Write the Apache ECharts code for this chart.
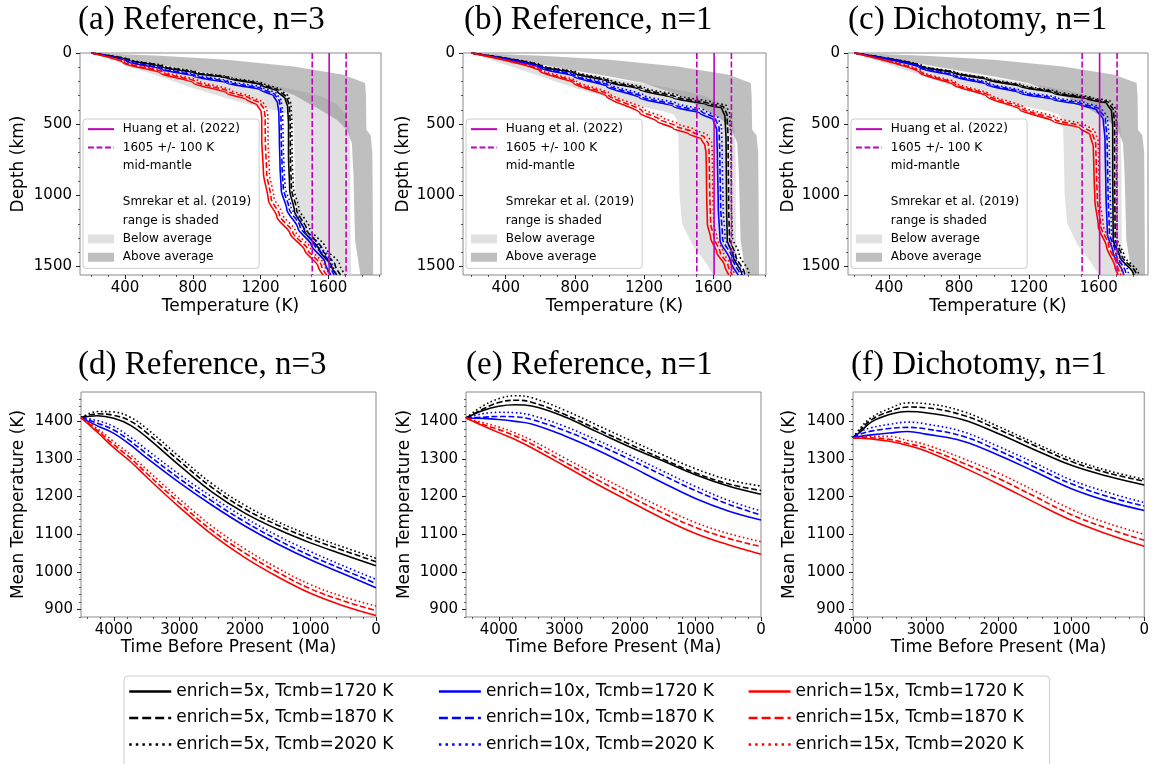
<!DOCTYPE html>
<html><head><meta charset="utf-8">
<script src="https://cdn.jsdelivr.net/npm/echarts/dist/echarts.min.js"></script>
<style>html,body{margin:0;padding:0;background:#fff}#c{width:1152px;height:764px}</style>
</head><body><div id="c"></div>
<script>
// ---------------- DATA ----------------
const panelTitles = ['(a) Reference, n=3','(b) Reference, n=1','(c) Dichotomy, n=1','(d) Reference, n=3','(e) Reference, n=1','(f) Dichotomy, n=1'];
const enrichLabels = ['5x','10x','15x'];
const tcmbLabels = ['1720','1870','2020'];

const depthMax = 1560;
const tempTicks = [400, 800, 1200, 1600];
const tempMinor = [200,300,500,600,700,900,1000,1100,1300,1400,1500,1700,1800,1900];
const depthTicks = [0, 500, 1000, 1500];
const depthMinor = [100,200,300,400,600,700,800,900,1100,1200,1300,1400];
const timeTicks = [0, 1000, 2000, 3000, 4000];
const timeMinor = [200,400,600,800,1200,1400,1600,1800,2200,2400,2600,2800,3200,3400,3600,3800,4200,4400];
const meanTTicks = [900, 1000, 1100, 1200, 1300, 1400];
const meanTMinor = [880,920,940,960,980,1020,1040,1060,1080,1120,1140,1160,1180,1220,1240,1260,1280,1320,1340,1360,1380,1420,1440,1460];
const tempRangeA = [134, 1911];
const tempRangeB = [153, 1905];
const tempRangeC = [165, 1882];
const timeRangeDE = [0, 4500];
const timeRangeF = [0, 4000];
const meanTRange = [880, 1478];

const huangT = 1605;
const huangBand = [1505, 1705];

// Smrekar et al. (2019) shaded ranges [T (K), depth (km)]
const belowCool = [[200,0],[400,82],[600,163],[800,246],[1000,318],[1178,376],[1300,405],[1370,430],[1395,480],[1400,700],[1405,1000],[1420,1200],[1480,1350],[1560,1480],[1600,1560]];
const belowHot = [[200,0],[600,90],[1000,175],[1300,235],[1450,270],[1560,305],[1650,360],[1705,440],[1725,540],[1730,800],[1730,1100],[1732,1400],[1735,1560]];
const aboveCool = [[200,0],[600,80],[804,125],[1000,165],[1197,211],[1394,293],[1552,399],[1650,469],[1709,540],[1739,634],[1748,845],[1758,1315],[1788,1549],[1790,1560]];
const aboveHot = [[200,0],[607,19],[1000,47],[1394,94],[1689,153],[1817,211],[1822,300],[1825,540],[1850,580],[1860,700],[1865,1560]];

// Panel (a) profiles [T, depth]
const aK1 = [[200,0],[420,50],[607,94],[804,141],[1000,176],[1197,223],[1300,270],[1345,320],[1360,380],[1365,500],[1365,728],[1372,962],[1400,1110],[1460,1250],[1550,1390],[1620,1500],[1650,1560]];
const aK2 = [[200,0],[425,49],[615,92],[815,138],[1010,173],[1205,218],[1310,264],[1355,312],[1370,372],[1375,500],[1376,728],[1382,950],[1412,1100],[1472,1240],[1565,1380],[1640,1490],[1672,1560]];
const aK3 = [[200,0],[430,48],[625,90],[825,135],[1020,170],[1215,213],[1320,258],[1365,305],[1380,365],[1385,500],[1386,728],[1393,940],[1425,1090],[1490,1230],[1585,1370],[1665,1480],[1700,1560]];
const aB1 = [[200,0],[410,60],[607,113],[804,164],[1000,211],[1197,258],[1276,300],[1300,350],[1308,420],[1311,600],[1315,800],[1322,962],[1355,1100],[1420,1230],[1500,1350],[1580,1470],[1615,1560]];
const aB2 = [[200,0],[415,58],[615,110],[815,159],[1010,205],[1205,250],[1285,292],[1312,340],[1320,410],[1322,600],[1327,800],[1334,950],[1368,1090],[1433,1220],[1515,1340],[1600,1460],[1635,1560]];
const aB3 = [[200,0],[420,56],[625,106],[825,154],[1020,199],[1215,242],[1295,285],[1322,335],[1330,405],[1333,600],[1338,800],[1345,940],[1380,1080],[1447,1210],[1530,1330],[1615,1450],[1650,1560]];
const aR1 = [[200,0],[390,70],[607,141],[804,211],[1000,282],[1119,329],[1180,365],[1203,410],[1207,460],[1207,610],[1217,845],[1246,1033],[1296,1150],[1374,1268],[1460,1385],[1540,1500],[1570,1560]];
const aR2 = [[200,0],[400,68],[620,135],[820,203],[1015,272],[1135,318],[1200,352],[1222,400],[1227,450],[1228,610],[1236,845],[1262,1020],[1312,1140],[1390,1260],[1478,1380],[1560,1495],[1590,1560]];
const aR3 = [[200,0],[410,66],[630,130],[835,196],[1030,264],[1150,310],[1215,345],[1238,395],[1243,450],[1244,610],[1252,845],[1278,1010],[1328,1130],[1405,1250],[1495,1375],[1578,1490],[1610,1560]];

// Panel (b) profiles
const bK1 = [[200,0],[598,94],[791,141],[984,200],[1176,258],[1369,317],[1562,364],[1649,387],[1668,446],[1674,610],[1677,1080],[1681,1315],[1716,1432],[1764,1549],[1768,1560]];
const bK2 = [[200,0],[605,92],[800,138],[995,196],[1190,252],[1383,309],[1575,355],[1660,378],[1680,436],[1686,610],[1689,1080],[1694,1305],[1730,1425],[1780,1545],[1785,1560]];
const bK3 = [[200,0],[612,90],[810,135],[1006,191],[1204,245],[1397,300],[1590,345],[1675,368],[1695,425],[1702,610],[1705,1080],[1711,1295],[1750,1415],[1805,1540],[1812,1560]];
const bB1 = [[200,0],[598,106],[791,164],[984,235],[1176,317],[1369,376],[1523,423],[1600,469],[1620,540],[1624,728],[1629,1080],[1639,1315],[1697,1455],[1745,1560]];
const bB2 = [[200,0],[605,103],[800,159],[995,229],[1190,309],[1383,367],[1535,412],[1612,457],[1634,530],[1638,728],[1643,1080],[1654,1305],[1712,1445],[1762,1560]];
const bB3 = [[200,0],[612,100],[810,154],[1006,222],[1204,300],[1397,357],[1548,402],[1625,447],[1648,520],[1652,728],[1657,1080],[1668,1295],[1727,1435],[1780,1560]];
const bR1 = [[200,0],[598,129],[791,211],[984,305],[1176,423],[1273,480],[1369,530],[1460,570],[1530,605],[1552,650],[1558,700],[1560,800],[1562,1000],[1566,1200],[1585,1300],[1620,1400],[1665,1490],[1690,1560]];
const bR2 = [[200,0],[605,125],[800,205],[995,296],[1190,410],[1290,466],[1385,514],[1478,553],[1548,590],[1572,640],[1576,700],[1578,850],[1580,1000],[1585,1200],[1605,1300],[1640,1400],[1685,1490],[1710,1560]];
const bR3 = [[200,0],[612,121],[810,198],[1006,287],[1204,397],[1305,452],[1400,500],[1495,538],[1565,575],[1590,625],[1594,690],[1596,850],[1598,1000],[1603,1200],[1622,1300],[1658,1400],[1702,1490],[1728,1560]];

// Panel (c) profiles
const cK1 = [[200,0],[577,94],[768,141],[959,188],[1149,235],[1340,282],[1531,324],[1645,352],[1674,411],[1680,516],[1680,845],[1683,1315],[1721,1432],[1798,1549],[1802,1560]];
const cK2 = [[200,0],[585,93],[777,139],[968,185],[1160,231],[1352,277],[1543,318],[1656,345],[1685,403],[1691,516],[1691,845],[1694,1310],[1733,1428],[1812,1545],[1818,1560]];
const cK3 = [[200,0],[593,92],[786,137],[978,182],[1170,227],[1364,272],[1555,312],[1667,338],[1696,395],[1702,516],[1702,845],[1705,1305],[1745,1424],[1826,1542],[1834,1560]];
const cB1 = [[200,0],[577,106],[768,164],[959,223],[1149,282],[1340,329],[1493,364],[1588,399],[1626,469],[1636,610],[1641,962],[1649,1268],[1683,1408],[1741,1549],[1745,1560]];
const cB2 = [[200,0],[585,104],[777,160],[968,218],[1160,276],[1352,322],[1505,356],[1600,390],[1638,460],[1648,610],[1653,962],[1661,1262],[1696,1402],[1755,1545],[1760,1560]];
const cB3 = [[200,0],[593,102],[786,156],[978,213],[1170,270],[1364,315],[1518,348],[1612,381],[1650,451],[1660,610],[1665,962],[1673,1256],[1709,1396],[1769,1540],[1776,1560]];
const cR1 = [[200,0],[577,141],[768,223],[959,305],[1149,399],[1340,481],[1493,528],[1550,575],[1569,657],[1573,845],[1578,1033],[1598,1221],[1645,1362],[1693,1502],[1712,1560]];
const cR2 = [[200,0],[585,137],[777,217],[968,298],[1160,390],[1352,470],[1505,515],[1563,560],[1583,640],[1587,845],[1592,1030],[1612,1215],[1658,1355],[1706,1495],[1727,1560]];
const cR3 = [[200,0],[593,133],[786,211],[978,291],[1170,381],[1364,458],[1518,502],[1577,545],[1597,625],[1601,845],[1606,1025],[1626,1210],[1672,1348],[1720,1488],[1742,1560]];

// Mean temperature histories
const timeDE = [4500,4250,4000,3750,3500,3000,2500,2000,1500,1000,500,0];
const dK1 = [1410,1415,1408,1390,1358,1283,1212,1156,1113,1077,1046,1016];
const dK2 = [1410,1420,1416,1401,1370,1295,1224,1167,1124,1088,1057,1027];
const dK3 = [1410,1426,1425,1411,1381,1306,1234,1177,1133,1097,1066,1036];
const dB1 = [1410,1388,1368,1338,1303,1237,1177,1122,1074,1032,995,958];
const dB2 = [1410,1395,1377,1348,1314,1248,1188,1133,1085,1043,1006,969];
const dB3 = [1410,1402,1386,1358,1325,1259,1199,1144,1096,1054,1016,980];
const dR1 = [1410,1371,1330,1294,1252,1172,1099,1038,987,943,910,884];
const dR2 = [1410,1376,1338,1303,1262,1183,1110,1050,999,955,923,897];
const dR3 = [1410,1381,1346,1312,1272,1194,1121,1061,1010,966,934,909];

const eK1 = [1409,1428,1440,1444,1441,1412,1372,1332,1295,1258,1228,1206];
const eK2 = [1409,1432,1450,1456,1451,1419,1379,1339,1300,1263,1234,1216];
const eK3 = [1409,1440,1460,1468,1463,1430,1390,1350,1311,1274,1245,1228];
const eB1 = [1409,1408,1405,1400,1393,1362,1324,1281,1237,1195,1162,1138];
const eB2 = [1409,1411,1413,1412,1405,1376,1339,1299,1257,1216,1180,1151];
const eB3 = [1409,1420,1424,1423,1416,1387,1350,1310,1268,1227,1190,1162];
const eR1 = [1409,1389,1370,1352,1330,1282,1233,1187,1142,1102,1072,1047];
const eR2 = [1409,1392,1378,1361,1340,1292,1245,1200,1157,1118,1089,1067];
const eR3 = [1409,1397,1385,1369,1350,1303,1257,1213,1170,1131,1102,1080];

const timeF = [4000,3900,3750,3500,3250,3000,2500,2000,1500,1000,500,0];
const fK1 = [1356,1372,1398,1418,1426,1423,1405,1367,1324,1283,1254,1231];
const fK2 = [1356,1377,1404,1426,1438,1436,1417,1378,1335,1293,1263,1241];
const fK3 = [1356,1382,1410,1434,1449,1447,1427,1386,1342,1300,1269,1246];
const fB1 = [1356,1360,1364,1369,1373,1366,1348,1310,1266,1221,1188,1163];
const fB2 = [1356,1366,1374,1381,1384,1380,1361,1322,1278,1234,1200,1175];
const fB3 = [1356,1372,1383,1392,1398,1393,1373,1333,1289,1244,1211,1184];
const fR1 = [1356,1355,1353,1347,1336,1321,1279,1233,1184,1137,1100,1068];
const fR2 = [1356,1356,1356,1352,1341,1329,1290,1248,1200,1152,1115,1084];
const fR3 = [1356,1358,1360,1360,1349,1338,1302,1262,1215,1166,1129,1100];

// ---------------- BUILD ----------------
const SANS = 'DejaVu Sans';
const SERIF = 'Liberation Serif';
const colors = ['#000000', '#0000ff', '#ff0000'];
const LW = 1.6;
const dashes = ['solid', [5.9, 2.6], [1.6, 2.6]];
const legendDashes = ['solid', [9, 4], [2.5, 4.1]];
function nm(e, t) { return 'enrich=' + enrichLabels[e] + ', Tcmb=' + tcmbLabels[t] + ' K'; }

const grids = [
  {left: 80, top: 53, width: 301, height: 222},
  {left: 463, top: 53, width: 303, height: 222},
  {left: 848, top: 53, width: 300, height: 222},
  {left: 81, top: 392, width: 295, height: 225},
  {left: 466, top: 392, width: 295, height: 225},
  {left: 853, top: 392, width: 294, height: 225}
];
const titlePos = [[78, 4], [464, 4], [848, 4], [78, 349], [466, 349], [851, 349]];
const yNameGap = [53, 51, 51, 54, 53, 55];

const profilePanels = [
  [[aK1, aK2, aK3], [aB1, aB2, aB3], [aR1, aR2, aR3]],
  [[bK1, bK2, bK3], [bB1, bB2, bB3], [bR1, bR2, bR3]],
  [[cK1, cK2, cK3], [cB1, cB2, cB3], [cR1, cR2, cR3]]
];
const tempRanges = [tempRangeA, tempRangeB, tempRangeC];
const historyPanels = [
  {time: timeDE, range: timeRangeDE, curves: [[dK1, dK2, dK3], [dB1, dB2, dB3], [dR1, dR2, dR3]]},
  {time: timeDE, range: timeRangeDE, curves: [[eK1, eK2, eK3], [eB1, eB2, eB3], [eR1, eR2, eR3]]},
  {time: timeF, range: timeRangeF, curves: [[fK1, fK2, fK3], [fB1, fB2, fB3], [fR1, fR2, fR3]]}
];

const xAxes = [], yAxes = [];
function mkAxes(list, dim, gi, range, majors, minors, inverse, name, nameGap) {
  const base = {type: 'value', gridIndex: gi, min: range[0], max: range[1], inverse: inverse,
    position: dim === 'x' ? 'bottom' : 'left', splitLine: {show: false},
    axisLine: {show: false, onZero: false}};
  list.push(Object.assign({}, base, {
    name: name, nameLocation: 'middle', nameGap: nameGap,
    nameTextStyle: {fontFamily: SANS, fontSize: 17, color: '#000'},
    axisTick: {show: true, length: 4, customValues: majors, lineStyle: {color: '#222', width: 1}},
    axisLabel: {customValues: majors, formatter: v => String(v), fontFamily: SANS, fontSize: 15, color: '#000', margin: dim === 'x' ? 6 : 8}
  }));
  list.push(Object.assign({}, base, {
    axisTick: {show: true, length: 2, customValues: minors, lineStyle: {color: '#333', width: 0.8}},
    axisLabel: {show: false}
  }));
}
for (let g = 0; g < 3; g++) {
  mkAxes(xAxes, 'x', g, tempRanges[g], tempTicks, tempMinor, false, 'Temperature (K)', 23);
  mkAxes(yAxes, 'y', g, [0, depthMax], depthTicks, depthMinor, true, 'Depth (km)', yNameGap[g]);
}
for (let g = 3; g < 6; g++) {
  const hp = historyPanels[g - 3];
  mkAxes(xAxes, 'x', g, hp.range, timeTicks, timeMinor, true, 'Time Before Present (Ma)', 22);
  mkAxes(yAxes, 'y', g, meanTRange, meanTTicks, meanTMinor, false, 'Mean Temperature (K)', yNameGap[g]);
}

function polygonSeries(name, upper, lower, fill, g) {
  const pts = upper.concat(lower.slice().reverse());
  return {
    type: 'custom', name: name, xAxisIndex: g * 2, yAxisIndex: g * 2, silent: true, z: 1,
    itemStyle: {color: fill}, data: pts, encode: {x: 0, y: 1}, clip: true,
    renderItem: function (params, api) {
      if (params.dataIndex !== 0) return null;
      return {type: 'polygon', shape: {points: pts.map(p => api.coord(p))}, style: {fill: fill}};
    }
  };
}

const series = [];
const LIGHT = 'rgba(211,211,211,0.7)';
const DARK = 'rgba(128,128,128,0.5)';
const HIDDEN_SYMBOL = {opacity: 0};
for (let g = 0; g < 3; g++) {
  series.push(polygonSeries('Below average', belowHot, belowCool, LIGHT, g));
  series.push(polygonSeries('Above average', aboveHot, aboveCool, DARK, g));
  for (let e = 0; e < 3; e++) for (let t = 0; t < 3; t++) {
    series.push({type: 'line', name: nm(e, t), xAxisIndex: g * 2, yAxisIndex: g * 2,
      data: profilePanels[g][e][t], symbol: 'none', smooth: 0.25, smoothMonotone: 'y', silent: true, z: 3,
      itemStyle: {color: colors[e], opacity: 0}, lineStyle: {color: colors[e], width: LW, type: dashes[t]}});
  }
  series.push({type: 'line', name: 'Huang et al. (2022)', xAxisIndex: g * 2, yAxisIndex: g * 2,
    data: [[huangT, 0], [huangT, depthMax]], symbol: 'none', silent: true, z: 4,
    itemStyle: {color: '#bf00bf', opacity: 0}, lineStyle: {color: '#bf00bf', width: LW}});
  huangBand.forEach(v => series.push({type: 'line', name: '1605 +/- 100 K', xAxisIndex: g * 2, yAxisIndex: g * 2,
    data: [[v, 0], [v, depthMax]], symbol: 'none', silent: true, z: 4,
    itemStyle: {color: '#bf00bf', opacity: 0}, lineStyle: {color: '#bf00bf', width: LW, type: [5.9, 2.6]}}));
}
['mid-mantle', ' ', 'Smrekar et al. (2019)', 'range is shaded'].forEach(n => series.push({
  type: 'line', name: n, xAxisIndex: 0, yAxisIndex: 0, data: [], symbol: 'none',
  itemStyle: {color: 'rgba(0,0,0,0)', opacity: 0}, lineStyle: {color: 'rgba(0,0,0,0)'}}));

for (let g = 3; g < 6; g++) {
  const hp = historyPanels[g - 3];
  for (let e = 0; e < 3; e++) for (let t = 0; t < 3; t++) {
    const vals = hp.curves[e][t];
    series.push({type: 'line', name: nm(e, t), xAxisIndex: g * 2, yAxisIndex: g * 2,
      data: hp.time.map((tm, i) => [tm, vals[i]]), symbol: 'none', smooth: 0.4, silent: true, z: 3,
      itemStyle: {color: colors[e], opacity: 0}, lineStyle: {color: colors[e], width: LW, type: dashes[t]}});
  }
}

const legends = [];
for (let g = 0; g < 3; g++) {
  legends.push({
    orient: 'vertical', left: grids[g].left + 3, top: 119, padding: [1, 8, 2, 4], itemGap: 0,
    itemWidth: 26, itemHeight: 9, selectedMode: false,
    backgroundColor: 'rgba(255,255,255,0.8)', borderColor: '#cccccc', borderWidth: 1, borderRadius: 3,
    formatter: n => ' ' + n,
    textStyle: {fontFamily: SANS, fontSize: 12, color: '#000', lineHeight: 18.3},
    data: [{name: 'Huang et al. (2022)', itemStyle: HIDDEN_SYMBOL}, {name: '1605 +/- 100 K', itemStyle: HIDDEN_SYMBOL},
      {name: 'mid-mantle', itemStyle: HIDDEN_SYMBOL}, {name: ' ', itemStyle: HIDDEN_SYMBOL},
      {name: 'Smrekar et al. (2019)', itemStyle: HIDDEN_SYMBOL}, {name: 'range is shaded', itemStyle: HIDDEN_SYMBOL},
      {name: 'Below average', icon: 'rect'}, {name: 'Above average', icon: 'rect'}]
  });
}
const bottomItems = [];
for (let t = 0; t < 3; t++) for (let e = 0; e < 3; e++) {
  bottomItems.push({name: nm(e, t), itemStyle: HIDDEN_SYMBOL, lineStyle: {width: 2.4, type: legendDashes[t]}});
}
legends.push({
  orient: 'horizontal', left: 124, top: 676, width: 920, padding: [7, 2, 30, 4], itemGap: 9.5,
  itemWidth: 42, itemHeight: 14, selectedMode: false,
  backgroundColor: '#fff', borderColor: '#cccccc', borderWidth: 1, borderRadius: 4,
  itemStyle: {opacity: 0},
  textStyle: {fontFamily: SANS, fontSize: 17, color: '#000', width: 252, lineHeight: 16, overflow: 'none'},
  data: bottomItems
});

const option = {
  animation: false,
  backgroundColor: '#fff',
  title: panelTitles.map((t, i) => ({text: t, left: titlePos[i][0], top: titlePos[i][1], padding: 0,
    textStyle: {fontFamily: SERIF, fontSize: 33, fontWeight: 'normal', color: '#000'}})),
  grid: grids.map(g => Object.assign({show: true, borderColor: '#8a8a8a', borderWidth: 1, backgroundColor: 'transparent'}, g)),
  xAxis: xAxes,
  yAxis: yAxes,
  legend: legends,
  series: series
};
const chart = echarts.init(document.getElementById('c'), null, {renderer: 'canvas'});
chart.setOption(option);
</script></body></html>
